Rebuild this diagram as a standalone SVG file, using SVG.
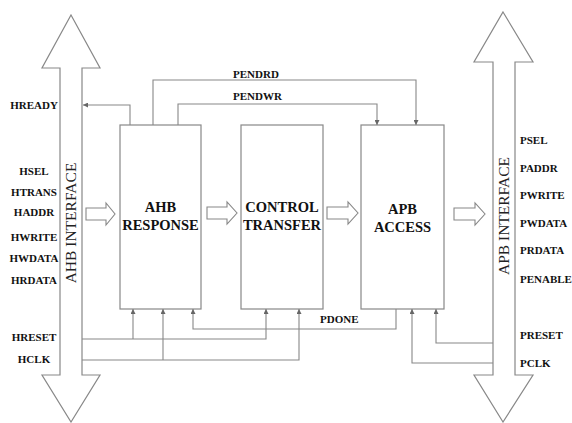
<svg xmlns="http://www.w3.org/2000/svg" width="572" height="423" viewBox="0 0 572 423" font-family="'Liberation Serif', 'Times New Roman', 'DejaVu Serif', serif">
<defs>
<marker id="ah" viewBox="0 0 10 10" refX="10" refY="5" markerWidth="5" markerHeight="5" orient="auto" markerUnits="userSpaceOnUse">
<path d="M0,0 L10,5 L0,10 z" fill="#666"/>
</marker>
</defs>
<style>
.big{fill:#fff;stroke:#888;stroke-width:1.2}
.box{fill:#fff;stroke:#888;stroke-width:1.2}
.blk{fill:#fff;stroke:#888;stroke-width:1.1}
.c{fill:none;stroke:#888;stroke-width:1.1}
.ca{fill:none;stroke:#888;stroke-width:1.1;marker-end:url(#ah)}
.sig{font-family:'Liberation Serif','Times New Roman',serif;font-weight:bold;font-size:11px;fill:#111}
.bl{font-family:'Liberation Serif','Times New Roman',serif;font-weight:bold;font-size:14.5px;fill:#111;text-anchor:middle}
.itf{font-family:'Liberation Serif','Times New Roman',serif;font-size:15.5px;fill:#222;text-anchor:middle}
</style>
<g id="ahb-interface">
<polygon class="big" points="71,15 100,68 82,68 82,375 100,375 71,422 42,375 60,375 60,68 42,68"/>
<text class="itf" transform="translate(76,223) rotate(-90)">AHB INTERFACE</text>
</g>
<g id="apb-interface">
<polygon class="big" points="503,12 533,62 515,62 515,375 533,375 503,422 474,375 493,375 493,62 474,62"/>
<text class="itf" transform="translate(509,216) rotate(-90)">APB INTERFACE</text>
</g>
<g id="ahb-response">
<rect class="box" x="120" y="125" width="81" height="184"/>
<text class="bl" x="160.5" y="212">AHB</text>
<text class="bl" x="160.5" y="230">RESPONSE</text>
</g>
<g id="control-transfer">
<rect class="box" x="241" y="125" width="82" height="184"/>
<text class="bl" x="282" y="212">CONTROL</text>
<text class="bl" x="282" y="230">TRANSFER</text>
</g>
<g id="apb-access">
<rect class="box" x="361" y="125" width="83" height="184"/>
<text class="bl" x="402.5" y="214">APB</text>
<text class="bl" x="402.5" y="232">ACCESS</text>
</g>
<g id="block-arrows">
<polygon class="blk" points="86,208 106,208 106,203 115,214 106,225 106,220 86,220"/>
<polygon class="blk" points="207,207 227,207 227,202 237,213 227,224 227,219 207,219"/>
<polygon class="blk" points="327,207 348,207 348,202 358,213 348,224 348,219 327,219"/>
<polygon class="blk" points="454,208 475,208 475,203 485,214 475,225 475,220 454,220"/>
</g>
<g id="connectors">
<path class="ca" d="M130,125 V105 H83"/>
<path class="ca" d="M153,125 V80 H416 V125"/>
<path class="ca" d="M178,125 V104 H377 V125"/>
<path class="ca" d="M82,339 H266 V309"/>
<path class="ca" d="M133,339 V309"/>
<path class="ca" d="M82,360 H299 V309"/>
<path class="ca" d="M163,360 V309"/>
<path class="ca" d="M396,309 V329 H193 V309"/>
<path class="ca" d="M493,343 H436 V309"/>
<path class="ca" d="M493,363 H412 V309"/>
</g>
<g id="labels">
<text class="sig" x="233" y="78">PENDRD</text>
<text class="sig" x="233" y="100">PENDWR</text>
<text class="sig" x="320" y="323">PDONE</text>
<g text-anchor="middle">
<text class="sig" x="34" y="109">HREADY</text>
<text class="sig" x="34" y="175">HSEL</text>
<text class="sig" x="34" y="196">HTRANS</text>
<text class="sig" x="34" y="216">HADDR</text>
<text class="sig" x="34" y="241">HWRITE</text>
<text class="sig" x="34" y="262">HWDATA</text>
<text class="sig" x="34" y="284">HRDATA</text>
<text class="sig" x="34" y="341">HRESET</text>
<text class="sig" x="34" y="363">HCLK</text>
</g>
<text class="sig" x="520" y="144">PSEL</text>
<text class="sig" x="520" y="172">PADDR</text>
<text class="sig" x="520" y="199">PWRITE</text>
<text class="sig" x="520" y="227">PWDATA</text>
<text class="sig" x="520" y="254">PRDATA</text>
<text class="sig" x="520" y="283">PENABLE</text>
<text class="sig" x="520" y="339">PRESET</text>
<text class="sig" x="520" y="367">PCLK</text>
</g>
</svg>
